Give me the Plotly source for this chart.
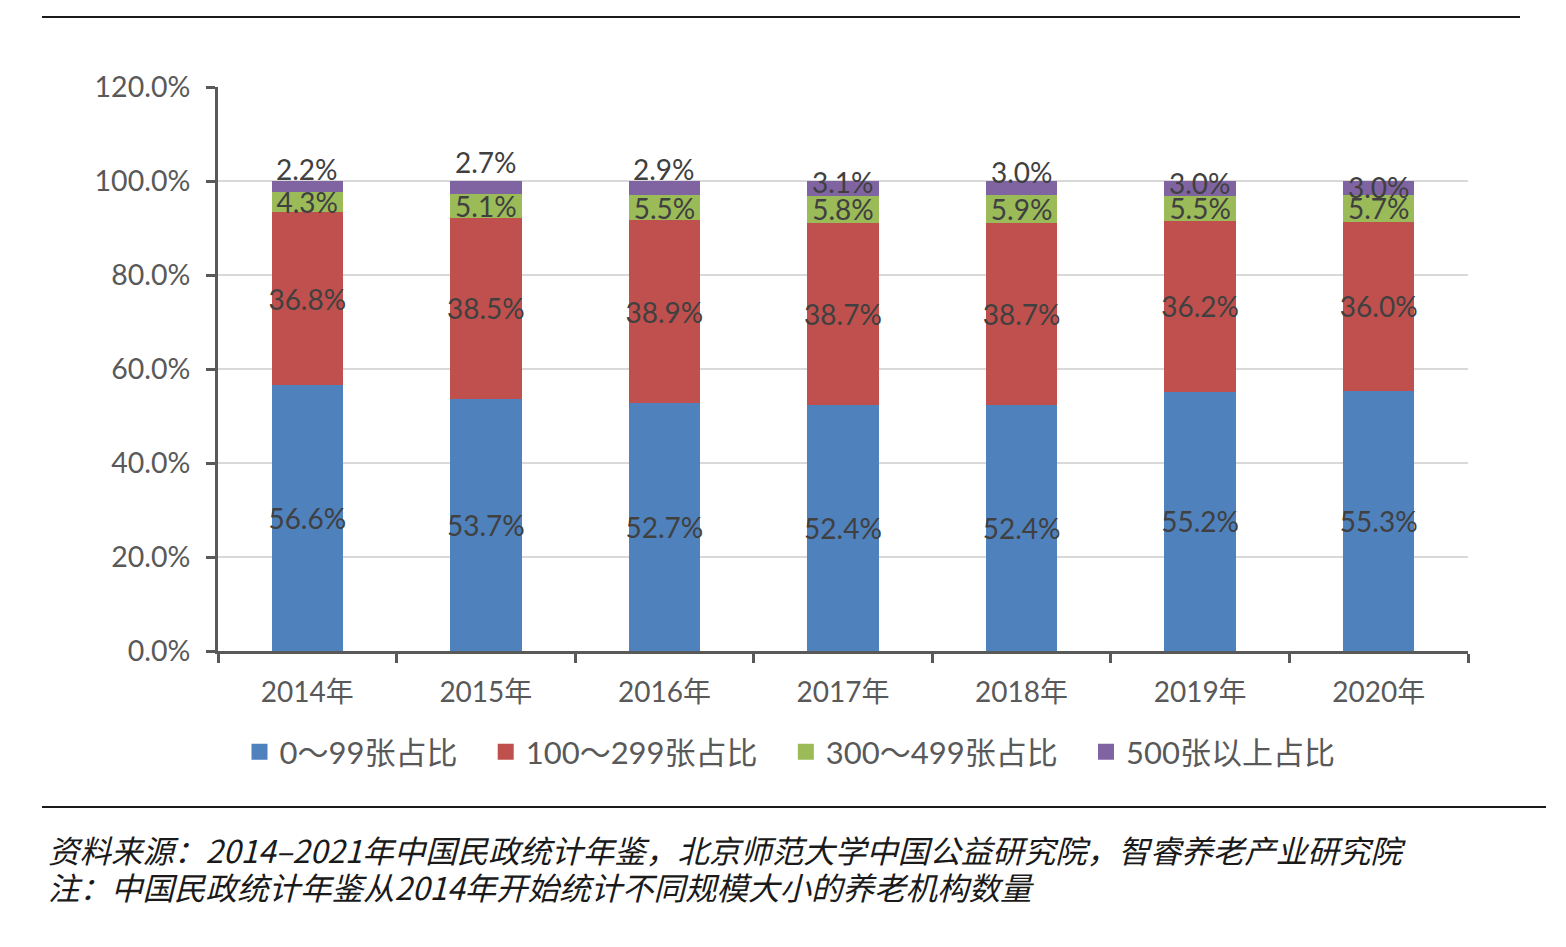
import plotly.graph_objects as go

years = ["2014年", "2015年", "2016年", "2017年", "2018年", "2019年", "2020年"]
series_names = ["0～99张占比", "100～299张占比", "300～499张占比", "500张以上占比"]
s_0_99 = [56.6, 53.7, 52.7, 52.4, 52.4, 55.2, 55.3]
s_100_299 = [36.8, 38.5, 38.9, 38.7, 38.7, 36.2, 36.0]
s_300_499 = [4.3, 5.1, 5.5, 5.8, 5.9, 5.5, 5.7]
s_500_up = [2.2, 2.7, 2.9, 3.1, 3.0, 3.0, 3.0]
y_ticks = [0, 20, 40, 60, 80, 100, 120]

colors = ["#4F81BD", "#C0504D", "#9BBB59", "#8064A2"]
purple_label_shift = [18, 25, 19, 6, 16, 6, 1]  # px, label placement styling

LATIN = "Lato, 'Noto Sans CJK SC', sans-serif"
LABEL_COLOR = "#404040"
AXIS_COLOR = "#595959"

fig = go.Figure()
all_series = [s_0_99, s_100_299, s_300_499, s_500_up]
for i, (name, vals) in enumerate(zip(series_names, all_series)):
    show_text = i < 3
    fig.add_trace(go.Bar(
        x=years, y=vals, name=name, showlegend=False,
        marker=dict(color=colors[i], line=dict(width=0)),
        text=[f"{v:.1f}%" for v in vals] if show_text else None,
        textposition="inside" if show_text else "none",
        insidetextanchor="middle",
        textangle=0,
        constraintext="none",
        textfont=dict(size=28, color=LABEL_COLOR, family=LATIN),
        hoverinfo="skip",
    ))

# legend entries with larger square swatches
for i, name in enumerate(series_names):
    label = name + ("\u2003" if i < len(series_names) - 1 else "")
    fig.add_trace(go.Scatter(
        x=[None], y=[None], mode="markers", name=label,
        marker=dict(symbol="square", size=17, color=colors[i]),
        showlegend=True, hoverinfo="skip",
    ))

# purple labels as annotations at segment midpoints
for j, yr in enumerate(years):
    base = s_0_99[j] + s_100_299[j] + s_300_499[j]
    mid = base + s_500_up[j] / 2
    fig.add_annotation(
        x=yr, y=mid, text=f"{s_500_up[j]:.1f}%", showarrow=False,
        yshift=purple_label_shift[j],
        font=dict(size=28, color=LABEL_COLOR, family=LATIN),
        xanchor="center", yanchor="middle",
    )

# plot area: x 218..1468, y 87..651
L, R, T, B = 218, 98, 87, 296
W = 1566 - L - R
H = 947 - T - B

def px(x):
    return (x - L) / W

def py(y):
    return (947 - B - y) / H

fig.update_layout(
    width=1566, height=947,
    margin=dict(l=L, r=R, t=T, b=B),
    barmode="stack",
    bargap=0.6,
    plot_bgcolor="white", paper_bgcolor="white",
    uniformtext=dict(minsize=28, mode="show"),
    font=dict(family=LATIN, color=AXIS_COLOR),
    showlegend=True,
    legend=dict(
        orientation="h", x=px(790), xanchor="center", y=py(752), yanchor="middle",
        font=dict(size=31, color=AXIS_COLOR, family=LATIN),
        itemwidth=30, traceorder="normal", itemsizing="trace",
    ),
    xaxis=dict(
        showline=True, linecolor=AXIS_COLOR, linewidth=3,
        ticks="outside", ticklen=9, tickwidth=3, tickcolor=AXIS_COLOR,
        tickson="boundaries",
        tickfont=dict(size=28, color=AXIS_COLOR, family=LATIN),
        ticklabelstandoff=14,
        showgrid=False,
    ),
    yaxis=dict(
        range=[0, 120], tickvals=y_ticks,
        ticktext=[f"{v:.1f}%" for v in y_ticks],
        showline=True, linecolor=AXIS_COLOR, linewidth=3,
        ticks="outside", ticklen=9, tickwidth=3, tickcolor=AXIS_COLOR,
        tickfont=dict(size=28.5, color=AXIS_COLOR, family=LATIN),
        ticklabelstandoff=10,
        showgrid=True, gridcolor="#D9D9D9", gridwidth=1.5,
        zeroline=False,
    ),
)

# rules above and below the chart
fig.add_shape(type="line", xref="paper", yref="paper",
              x0=px(42), x1=px(1520), y0=py(17), y1=py(17),
              line=dict(color="#1a1a1a", width=2))
fig.add_shape(type="line", xref="paper", yref="paper",
              x0=px(42), x1=px(1546), y0=py(807), y1=py(807),
              line=dict(color="#1a1a1a", width=2))

notes = [
    "资料来源：2014–2021年中国民政统计年鉴，北京师范大学中国公益研究院，智睿养老产业研究院",
    "注：中国民政统计年鉴从2014年开始统计不同规模大小的养老机构数量",
]
for k, (txt, yy) in enumerate(zip(notes, [849, 886])):
    fig.add_annotation(
        xref="paper", yref="paper", x=px(46), y=py(yy),
        xanchor="left", yanchor="middle", showarrow=False,
        text=f"<i>{txt}</i>",
        font=dict(size=31.5, color="#1a1a1a", family="'Noto Sans CJK SC', sans-serif"),
    )

fig.write_html("out.html")
